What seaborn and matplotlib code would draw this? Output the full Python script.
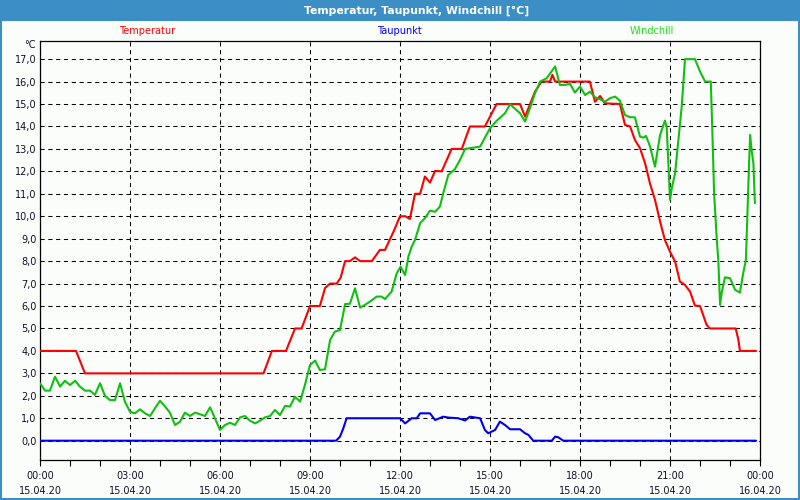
import matplotlib
matplotlib.use("Agg")
import matplotlib.pyplot as plt
import numpy as np
import pandas as pd
import seaborn as sns
from matplotlib.patches import Rectangle
from matplotlib.ticker import FixedLocator, MultipleLocator

# ---------------- data (hours since 15.04.20 00:00, °C) ----------------
series_names = ["Temperatur", "Taupunkt", "Windchill"]

temp_hours = [0, 1.2, 1.5, 7.45, 7.73, 8.2, 8.5, 8.72, 9.0, 9.33, 9.5, 9.67, 9.89,
              10.02, 10.17, 10.33, 10.5, 10.67, 11.06, 11.33, 11.5, 11.78, 12.0,
              12.17, 12.33, 12.5, 12.67, 12.83, 13.0, 13.17, 13.39, 13.72, 14.06,
              14.33, 14.83, 15.22, 16.0, 16.17, 16.5, 16.72, 17.0, 17.08, 17.17,
              18.33, 18.5, 18.67, 18.83, 19.33, 19.5, 19.67, 19.83, 20.0, 20.17,
              20.33, 20.5, 20.67, 20.83, 21.0, 21.17, 21.33, 21.5, 21.67, 21.83,
              22.0, 22.22, 22.33, 23.19, 23.28, 23.33, 23.87]
temp_values = [4.0, 4.0, 3.0, 3.0, 4.0, 4.0, 5.0, 5.0, 6.0, 6.0, 6.8, 7.0, 7.0,
               7.26, 8.0, 8.0, 8.17, 8.0, 8.0, 8.5, 8.5, 9.3, 10.0,
               10.0, 9.88, 11.0, 11.0, 11.77, 11.5, 12.02, 12.0, 13.0, 13.0,
               14.0, 14.0, 15.0, 15.0, 14.44, 15.55, 16.0, 16.0, 16.3, 16.0,
               16.0, 15.1, 15.36, 15.03, 15.0, 14.07, 14.0, 13.4, 13.03, 12.36,
               11.47, 10.73, 9.76, 8.94, 8.42, 7.98, 7.09, 6.94, 6.64, 6.02,
               6.0, 5.16, 5.0, 5.0, 4.49, 4.0, 4.0]

dew_hours = [0, 9.87, 10.0, 10.11, 10.22, 12.0, 12.17, 12.39, 12.56, 12.67, 13.0,
             13.17, 13.44, 13.61, 13.94, 14.17, 14.33, 14.67, 14.83, 14.94, 15.17,
             15.33, 15.5, 15.67, 16.0, 16.17, 16.28, 16.44, 17.06, 17.17, 17.28,
             17.44, 23.87]
dew_values = [0, 0, 0.18, 0.55, 1.0, 1.0, 0.77, 1.0, 1.0, 1.22, 1.22,
              0.92, 1.07, 1.03, 1.0, 0.9, 1.07, 1.0, 0.48, 0.33, 0.48,
              0.85, 0.7, 0.51, 0.51, 0.33, 0.26, 0.0, 0.0, 0.18, 0.15,
              0.0, 0.0]

wind_hours = [0, 0.17, 0.33, 0.5, 0.67, 0.83, 1.0, 1.17, 1.33, 1.5, 1.67, 1.83,
              2.0, 2.17, 2.33, 2.5, 2.67, 2.83, 3.0, 3.17, 3.33, 3.5, 3.67, 3.83,
              4.0, 4.17, 4.33, 4.5, 4.67, 4.83, 5.0, 5.17, 5.33, 5.5, 5.67, 5.83,
              6.0, 6.17, 6.33, 6.5, 6.67, 6.83, 7.0, 7.17, 7.33, 7.5, 7.67, 7.83,
              8.0, 8.17, 8.33, 8.5, 8.67, 8.83, 9.0, 9.17, 9.33, 9.5, 9.67, 9.83,
              10.0, 10.17, 10.33, 10.5, 10.67, 10.83, 11.0, 11.22, 11.39, 11.5,
              11.72, 11.89, 12.02, 12.17, 12.28, 12.39, 12.5, 12.67, 12.83, 13.0,
              13.17, 13.33, 13.44, 13.61, 13.83, 14.0, 14.17, 14.67, 15.0, 15.22,
              15.5, 15.67, 16.0, 16.17, 16.33, 16.5, 16.67, 16.89, 17.17, 17.33,
              17.5, 17.67, 17.83, 18.0, 18.17, 18.33, 18.5, 18.67, 18.83, 19.0,
              19.17, 19.33, 19.5, 19.67, 19.83, 20.0, 20.11, 20.2, 20.33, 20.5,
              20.67, 20.83, 20.89, 21.0, 21.06, 21.17, 21.28, 21.39, 21.5, 21.83,
              22.0, 22.17, 22.36, 22.42, 22.47, 22.56, 22.61, 22.67, 22.72, 22.83,
              23.0, 23.17, 23.33, 23.44, 23.53, 23.61, 23.67, 23.72, 23.78, 23.83]
wind_values = [2.56, 2.23, 2.23, 2.85, 2.41, 2.67, 2.48, 2.67, 2.41, 2.23, 2.23, 2.04,
               2.56, 1.99, 1.81, 1.81, 2.56, 1.74, 1.29, 1.22, 1.4, 1.22, 1.1, 1.44,
               1.78, 1.52, 1.25, 0.7, 0.85, 1.25, 1.1, 1.25, 1.18, 1.1, 1.49, 1.0,
               0.48, 0.7, 0.8, 0.7, 1.04, 1.1, 0.89, 0.77, 0.89, 1.04, 1.1, 1.37,
               1.14, 1.55, 1.52, 1.96, 1.74, 2.48, 3.37, 3.57, 3.15, 3.18, 4.49, 4.86,
               4.93, 6.09, 6.1, 6.79, 5.93, 6.05, 6.2, 6.42, 6.42, 6.31,
               6.64, 7.46, 7.75, 7.38, 8.2, 8.65, 8.94, 9.69, 9.91, 10.25,
               10.2, 10.43, 11.02, 11.84, 12.1, 12.51, 13.0, 13.1, 13.92, 14.25,
               14.59, 14.99, 14.59, 14.22, 14.81, 15.48, 16.0, 16.15, 16.67, 15.85,
               15.85, 15.9, 15.51, 15.78, 15.4, 15.55, 15.3, 15.21, 15.1, 15.26,
               15.33, 15.15, 14.51, 14.41, 14.41, 13.55, 13.5, 13.58, 13.13, 12.21,
               13.62, 14.26, 13.99, 10.73, 11.25, 11.92, 13.4, 14.88, 17.0, 17.0,
               16.45, 16.0, 16.0, 13.4, 11.02, 8.94, 8.05, 6.05, 6.57, 7.28,
               7.24, 6.72, 6.6, 7.46, 8.05, 11.32, 13.62, 12.95, 12.36, 10.58]

x_tick_hours = [0, 3, 6, 9, 12, 15, 18, 21, 24]
x_tick_labels = ["00:00\n15.04.20", "03:00\n15.04.20", "06:00\n15.04.20",
                 "09:00\n15.04.20", "12:00\n15.04.20", "15:00\n15.04.20",
                 "18:00\n15.04.20", "21:00\n15.04.20", "00:00\n16.04.20"]
y_ticks = list(range(0, 18))
y_tick_labels = [f"{v},0" for v in y_ticks]

title_text = "Temperatur, Taupunkt, Windchill [°C]"
unit_text = "°C"

# ---------------- styling ----------------
FRAME = "#3C8FC5"
BG = "#FBFDFB"
TXT = "#10102A"
line_colors = {"Temperatur": "#FF0000", "Taupunkt": "#0000EE", "Windchill": "#10C010"}
label_colors = {"Temperatur": "#FF0000", "Taupunkt": "#0000FF", "Windchill": "#22DD22"}

sns.set_style("white")
plt.rcParams["font.family"] = ["DejaVu Sans"]

df = pd.concat([
    pd.DataFrame({"h": temp_hours, "v": temp_values, "series": "Temperatur"}),
    pd.DataFrame({"h": dew_hours, "v": dew_values, "series": "Taupunkt"}),
    pd.DataFrame({"h": wind_hours, "v": wind_values, "series": "Windchill"}),
], ignore_index=True)

W, H = 800, 500
fig = plt.figure(figsize=(8, 5), dpi=100)
fig.patch.set_facecolor(FRAME)
fig.add_artist(Rectangle((2 / W, 2 / H), 796 / W, (H - 21 - 2) / H,
                         transform=fig.transFigure, facecolor=BG,
                         edgecolor="none", zorder=0))

ax = fig.add_axes([40 / W, 40 / H, 720 / W, 419.5 / H])
ax.set_facecolor(BG)

sns.lineplot(data=df, x="h", y="v", hue="series", palette=line_colors,
             hue_order=series_names, estimator=None, sort=False,
             legend=False, linewidth=1.5, ax=ax, zorder=3)

ax.set_xlim(0, 24)
ax.set_ylim(-0.86, 17.83)
ax.xaxis.set_major_locator(FixedLocator(x_tick_hours))
ax.set_xticks(x_tick_hours)
ax.set_xticklabels(x_tick_labels, fontsize=7, color=TXT)
for lab in ax.get_xticklabels():
    lab.set_linespacing(1.55)
ax.xaxis.set_minor_locator(MultipleLocator(1))
ax.set_yticks(y_ticks)
ax.set_yticklabels(y_tick_labels, fontsize=7, color=TXT)

ax.tick_params(axis="x", which="both", direction="out", length=4, width=0.8,
               color="black", pad=4, bottom=True)
ax.tick_params(axis="y", which="both", length=0, pad=2.5, left=True)
ax.set_xlabel("")
ax.set_ylabel("")

ax.grid(True, which="major", color="black", linestyle=(0, (4, 3.5)), linewidth=0.75)
ax.set_axisbelow(True)
for s in ax.spines.values():
    s.set_visible(True)
    s.set_color("black")
    s.set_linewidth(0.9)

# title bar text
fig.text(417 / W, 1 - 10.5 / H, title_text, color="white", fontsize=7.8,
         fontweight="bold", ha="center", va="center")
# series labels
for name, xc in zip(series_names, [147, 399, 652]):
    fig.text(xc / W, 1 - 31.5 / H, name, color=label_colors[name], fontsize=7,
             ha="center", va="center")
# unit label
fig.text(36 / W, 1 - 45 / H, unit_text, color=TXT, fontsize=7, ha="right", va="center")

fig.savefig("out.png", dpi=100, facecolor=fig.get_facecolor())
